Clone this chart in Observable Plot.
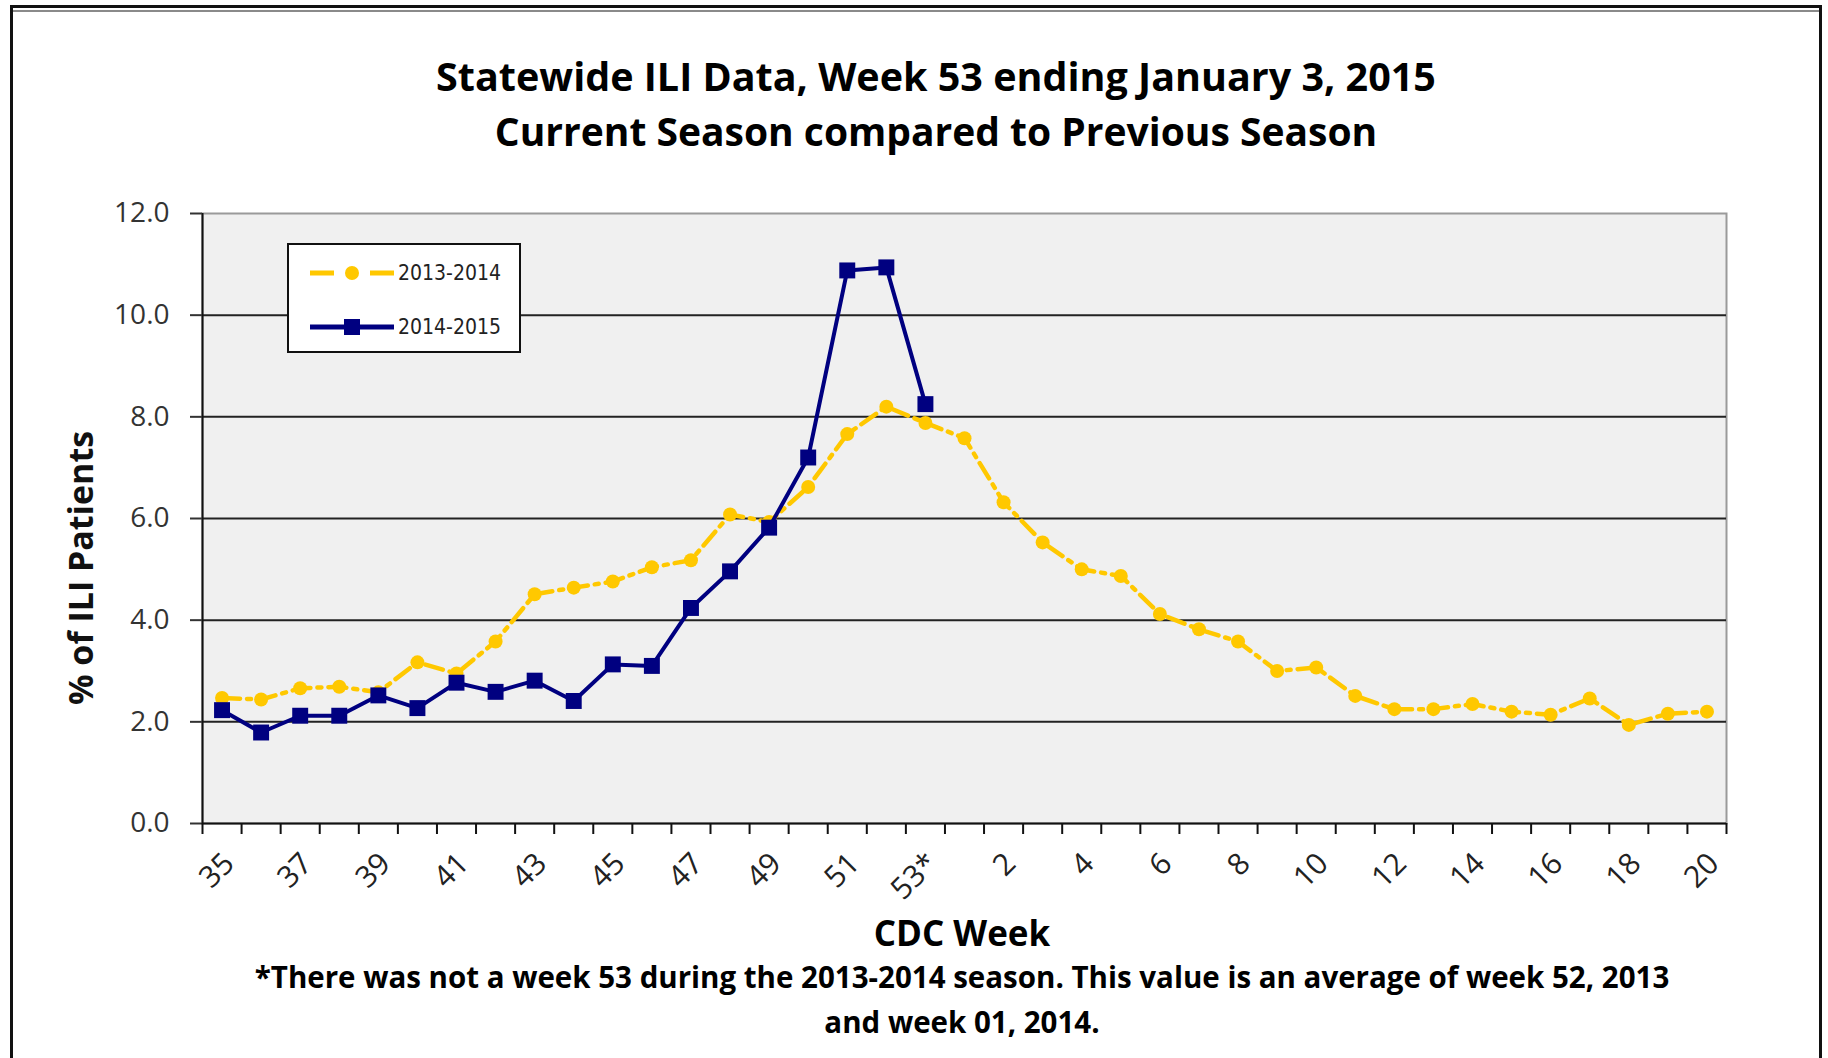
<!DOCTYPE html>
<html>
<head>
<meta charset="utf-8">
<script src="https://cdn.jsdelivr.net/npm/d3@7"></script>
<script src="https://cdn.jsdelivr.net/npm/@observablehq/plot@0.6"></script>
<style>
  html, body { margin: 0; padding: 0; background: #fff; }
  #page { position: relative; width: 1828px; height: 1058px; overflow: hidden; font-family: "Open Sans", "Noto Sans", sans-serif; color: #000; }
  #frameOuter { position: absolute; left: 10px; top: 5px; width: 1806px; height: 1200px; border-top: 3px solid #111; border-left: 3px solid #111; border-right: 3px solid #111; }
  #frameInner { position: absolute; left: 13px; top: 10px; width: 1806px; height: 0; border-top: 2px solid #8a8a8a; }
  .ctext { position: absolute; left: 0; width: 1872px; text-align: center; font-weight: 700; white-space: nowrap; }
  #chart { position: absolute; left: 0; top: 150px; }
  #ylabel { position: absolute; left: 80px; top: 568px; transform: translate(-50%, -50%) rotate(-90deg); font-weight: 700; font-size: 34px; white-space: nowrap; color: #111; }
  #legend { position: absolute; left: 287px; top: 243px; width: 230px; height: 106px; border: 2px solid #111; background: #fff; }
  .lrow { position: absolute; left: 21px; height: 30px; display: flex; align-items: center; }
  .lrow span { font-family: "Liberation Sans Narrow", "DejaVu Sans Condensed", "Roboto", sans-serif; font-stretch: condensed; font-size: 21px; color: #222; margin-left: 4px; }
</style>
</head>
<body>
<div id="page">
  <div id="frameOuter"></div>
  <div id="frameInner"></div>
  <div class="ctext" id="t1" style="top:50px;font-size:39.5px;line-height:52px;">Statewide ILI Data, Week 53 ending January 3, 2015</div>
  <div class="ctext" id="t2" style="top:105px;font-size:39px;line-height:52px;">Current Season compared to Previous Season</div>
  <div id="chart"></div>
  <div id="ylabel">% of ILI Patients</div>
  <div id="legend"></div>
  <div class="ctext" style="left:0;width:1924px;top:910px;font-size:35px;line-height:46px;">CDC Week</div>
  <div class="ctext" style="left:0;width:1924px;top:957px;font-size:29.5px;line-height:40px;">*There was not a week 53 during the 2013-2014 season. This value is an average of week 52, 2013</div>
  <div class="ctext" style="left:0;width:1924px;top:1002px;font-size:29.5px;line-height:40px;">and week 01, 2014.</div>
</div>
<script>
// ---- Data ----
const weekLabels = ["35","36","37","38","39","40","41","42","43","44","45","46","47","48","49","50","51","52","53*",
  "1","2","3","4","5","6","7","8","9","10","11","12","13","14","15","16","17","18","19","20"];
const ili2013_2014 = [2.47, 2.44, 2.66, 2.69, 2.58, 3.17, 2.95, 3.58, 4.51, 4.64, 4.76, 5.04, 5.18, 6.08, 5.93, 6.62, 7.66, 8.20, 7.88,
  7.58, 6.32, 5.53, 5.00, 4.87, 4.12, 3.82, 3.58, 3.00, 3.07, 2.51, 2.25, 2.25, 2.35, 2.20, 2.14, 2.46, 1.94, 2.16, 2.20];
const ili2014_2015 = [2.23, 1.79, 2.12, 2.12, 2.52, 2.27, 2.77, 2.59, 2.81, 2.41, 3.13, 3.10, 4.24, 4.96, 5.82, 7.20, 10.88, 10.94, 8.25];
const yTicks = [0, 2, 4, 6, 8, 10, 12];
const seriesNames = ["2013-2014", "2014-2015"];
const colorPrev = "#FFC800";
const colorCurr = "#000080";

const prev = ili2013_2014.map((v, i) => ({i, v}));
const curr = ili2014_2015.map((v, i) => ({i, v}));
const n = weekLabels.length;

const chart = Plot.plot({
  width: 1828,
  height: 770,
  marginLeft: 202,
  marginRight: 102,
  marginTop: 63,
  marginBottom: 97,
  x: {type: "linear", domain: [-0.5, n - 0.5], axis: null},
  y: {domain: [0, 12], axis: null},
  style: {fontFamily: "'Open Sans', sans-serif", background: "transparent", overflow: "visible"},
  marks: [
    Plot.frame({fill: "#f0f0f0", stroke: "#9a9a9a", strokeWidth: 2}),
    Plot.ruleY(yTicks.filter(d => d > 0 && d < 12), {stroke: "#222", strokeWidth: 2}),
    Plot.ruleY([0], {stroke: "#111", strokeWidth: 2}),
    Plot.ruleX([-0.5], {stroke: "#111", strokeWidth: 2}),
    Plot.axisY({ticks: yTicks, tickFormat: d => d.toFixed(1), tickSize: 12, tickPadding: 21, fontSize: 28, color: "#333", strokeWidth: 2, label: null}),
    Plot.axisX({ticks: d3.range(-0.5, n, 1), tickSize: 11, tickFormat: () => "", color: "#111", strokeWidth: 2, label: null}),
    Plot.axisX({ticks: d3.range(0, n, 2), tickFormat: i => weekLabels[i], tickSize: 0, tickRotate: -45, tickPadding: 35, dx: 7, fontSize: 30, color: "#222", label: null}),
    Plot.line(prev, {x: "i", y: "v", stroke: colorPrev, strokeWidth: 4.5, strokeDasharray: "18,7,4,7"}),
    Plot.dot(prev, {x: "i", y: "v", r: 7, fill: colorPrev}),
    Plot.line(curr, {x: "i", y: "v", stroke: colorCurr, strokeWidth: 4}),
    Plot.dot(curr, {x: "i", y: "v", r: 9, symbol: "square", fill: colorCurr})
  ]
});
document.getElementById("chart").appendChild(chart);

// ---- Legend ----
const legend = document.getElementById("legend");
const rows = [
  {name: seriesNames[0], color: colorPrev, dash: true, marker: "circle", top: 13},
  {name: seriesNames[1], color: colorCurr, dash: false, marker: "square", top: 67}
];
for (const r of rows) {
  const row = document.createElement("div");
  row.className = "lrow";
  row.style.top = r.top + "px";
  const ns = "http://www.w3.org/2000/svg";
  const svg = document.createElementNS(ns, "svg");
  svg.setAttribute("width", 84); svg.setAttribute("height", 30);
  const ln = document.createElementNS(ns, "line");
  ln.setAttribute("x1", 0); ln.setAttribute("x2", 84); ln.setAttribute("y1", 15); ln.setAttribute("y2", 15);
  ln.setAttribute("stroke", r.color); ln.setAttribute("stroke-width", 5);
  if (r.dash) { ln.setAttribute("stroke-dasharray", "24,14,8,14,24"); }
  svg.appendChild(ln);
  if (r.marker === "circle") {
    const c = document.createElementNS(ns, "circle");
    c.setAttribute("cx", 42); c.setAttribute("cy", 15); c.setAttribute("r", 7); c.setAttribute("fill", r.color);
    svg.appendChild(c);
  } else {
    const s = document.createElementNS(ns, "rect");
    s.setAttribute("x", 34); s.setAttribute("y", 7); s.setAttribute("width", 16); s.setAttribute("height", 16); s.setAttribute("fill", r.color);
    svg.appendChild(s);
  }
  row.appendChild(svg);
  const sp = document.createElement("span");
  sp.textContent = r.name;
  row.appendChild(sp);
  legend.appendChild(row);
}
</script>
</body>
</html>
